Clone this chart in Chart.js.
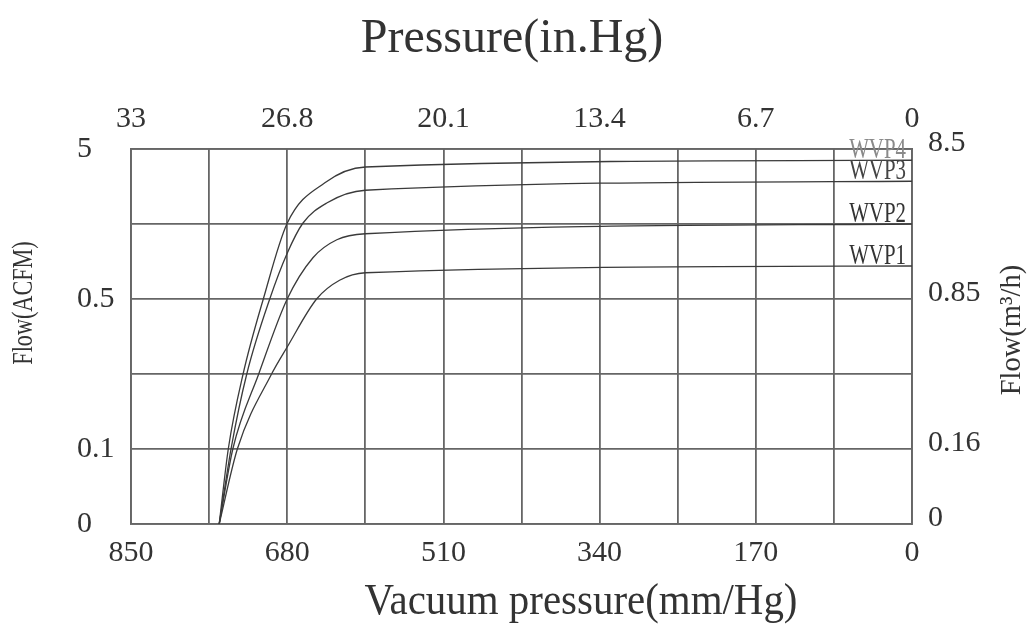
<!DOCTYPE html>
<html>
<head>
<meta charset="utf-8">
<script src="https://cdn.jsdelivr.net/npm/chart.js@4.4.1/dist/chart.umd.min.js"></script>
<style>
  html, body { margin: 0; padding: 0; background: #fff; overflow: hidden; }
</style>
</head>
<body>
<canvas id="flowChart" width="1031" height="626"></canvas>
<script>
// axis tick labels
const mmTicks = [850, 680, 510, 340, 170, 0];
const inHgTicks = ["33", "26.8", "20.1", "13.4", "6.7", "0"];
const acfmTicks = ["0", "0.1", "", "0.5", "", "5"];
const m3hTicks = ["0", "0.16", "", "0.85", "", "8.5"];

// x = vacuum pressure (mm/Hg), y = chart row (0 = bottom line, 5 = top line)
const wvp1X = [0, 595, 623, 648, 680, 697, 734, 754];
const wvp1Y = [3.44, 3.35, 3.25, 3.0, 2.36, 2.0, 1.01, 0];
const wvp2X = [0, 595, 626, 652, 680, 711, 739, 754];
const wvp2Y = [4.0, 3.87, 3.79, 3.55, 3.0, 2.0, 1.01, 0];
const wvp3X = [0, 595, 637, 663, 680, 699, 724, 741, 754];
const wvp3Y = [4.57, 4.45, 4.28, 4.01, 3.61, 3.0, 2.0, 1.01, 0];
const wvp4X = [0, 595, 639, 680, 706, 728, 744, 754];
const wvp4Y = [4.85, 4.76, 4.55, 4.01, 3.0, 2.0, 1.01, 0];

const FONT = "'Liberation Serif', 'Times New Roman', serif";
const INK = "#333";
const GRID = "#666";

function pts(xs, ys) {
  return xs.map((x, i) => ({ x: x, y: ys[i] }));
}

function series(label, xs, ys, labelColor) {
  return {
    label: label,
    data: pts(xs, ys),
    borderColor: "#3a3a3a",
    borderWidth: 1.3,
    pointRadius: 0,
    cubicInterpolationMode: "monotone",
    labelColor: labelColor,
  };
}

// draws a (optionally squeezed / rotated) text centered on x
function drawText(ctx, text, x, y, size, sx, rot) {
  ctx.save();
  ctx.translate(x, y);
  if (rot) ctx.rotate(rot);
  ctx.scale(sx, 1);
  ctx.font = size + "px " + FONT;
  ctx.fillStyle = INK;
  ctx.textAlign = "center";
  ctx.textBaseline = rot ? "middle" : "alphabetic";
  ctx.fillText(text, 0, 0);
  ctx.restore();
}

const textPlugin = {
  id: "textPlugin",
  afterDatasetsDraw(chart) {
    const ctx = chart.ctx;
    chart.data.datasets.forEach((ds, i) => {
      const end = chart.getDatasetMeta(i).data[0]; // 0 mm/Hg is the right end
      ctx.save();
      ctx.translate(end.x - 6, end.y - 2);
      ctx.scale(0.72, 1);
      ctx.font = "29px " + FONT;
      ctx.fillStyle = ds.labelColor;
      ctx.textAlign = "right";
      ctx.fillText(ds.label, 0, 0);
      ctx.restore();
    });
  },
  afterDraw(chart) {
    const ctx = chart.ctx;
    drawText(ctx, "Pressure(in.Hg)", 512, 52, 48, 1, 0);
    drawText(ctx, "Vacuum pressure(mm/Hg)", 581, 614, 44, 0.93, 0);
    drawText(ctx, "Flow(ACFM)", 24, 303, 30, 0.74, -Math.PI / 2);
    drawText(ctx, "Flow(m³/h)", 1012, 330, 30, 0.95, -Math.PI / 2);
  },
};

new Chart(document.getElementById("flowChart"), {
  type: "line",
  data: {
    datasets: [
      series("WVP1", wvp1X, wvp1Y, "#333"),
      series("WVP2", wvp2X, wvp2Y, "#333"),
      series("WVP3", wvp3X, wvp3Y, "#444"),
      series("WVP4", wvp4X, wvp4Y, "#8a8a8a"),
    ],
  },
  options: {
    responsive: false,
    animation: false,
    layout: { padding: { left: 77, top: 0, right: 0, bottom: 0 } },
    plugins: {
      legend: { display: false },
      tooltip: { enabled: false },
    },
    scales: {
      x: {
        type: "linear",
        position: "bottom",
        min: 0,
        max: 850,
        reverse: true,
        grid: { color: GRID, lineWidth: 1.8, drawTicks: false },
        border: { color: GRID, width: 1.8 },
        ticks: {
          stepSize: 85,
          autoSkip: false,
          maxRotation: 0,
          padding: 11,
          color: INK,
          font: { family: FONT, size: 30 },
          callback: (v) => {
            const i = mmTicks.indexOf(v);
            return i >= 0 ? String(mmTicks[i]) : "";
          },
        },
        afterFit: (s) => { s.height = 102; },
      },
      x2: {
        type: "linear",
        position: "top",
        min: 0,
        max: 850,
        reverse: true,
        grid: { display: false, drawTicks: false },
        border: { color: GRID, width: 1.8 },
        ticks: {
          stepSize: 85,
          autoSkip: false,
          maxRotation: 0,
          padding: 12,
          color: INK,
          font: { family: FONT, size: 30 },
          callback: (v) => {
            const i = mmTicks.indexOf(v);
            return i >= 0 ? inHgTicks[i] : "";
          },
        },
        afterFit: (s) => { s.height = 149; },
      },
      y: {
        position: "left",
        min: 0,
        max: 5,
        grid: { color: GRID, lineWidth: 1.8, drawTicks: false },
        border: { color: GRID, width: 1.8 },
        ticks: {
          stepSize: 1,
          crossAlign: "far",
          color: INK,
          font: { family: FONT, size: 30 },
          callback: (v, i) => acfmTicks[i],
        },
        afterFit: (s) => { s.width = 54; },
      },
      y2: {
        position: "right",
        min: 0,
        max: 5,
        grid: { display: false, drawTicks: false },
        border: { color: GRID, width: 1.8 },
        ticks: {
          padding: 16,
          color: INK,
          font: { family: FONT, size: 30 },
          callback: (v, i) => m3hTicks[i],
        },
        // labels on this side sit a little above their grid lines
        afterBuildTicks: (s) => {
          s.ticks = m3hTicks.map((t, i) => ({ value: i + 0.08 }));
        },
        afterFit: (s) => { s.width = 119; },
      },
    },
  },
  plugins: [textPlugin],
});
</script>
</body>
</html>
